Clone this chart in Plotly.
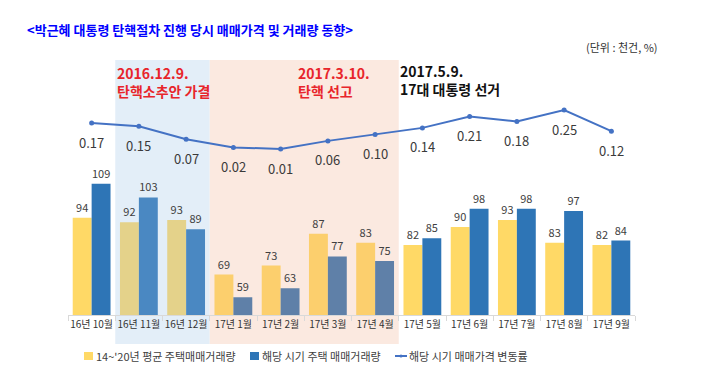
import plotly.graph_objects as go

categories = ["16년 10월", "16년 11월", "16년 12월", "17년 1월", "17년 2월", "17년 3월",
              "17년 4월", "17년 5월", "17년 6월", "17년 7월", "17년 8월", "17년 9월"]
avg_volume = [94, 92, 93, 69, 73, 87, 83, 82, 90, 93, 83, 82]
period_volume = [109, 103, 89, 59, 63, 77, 75, 85, 98, 98, 97, 84]
price_change = [0.17, 0.15, 0.07, 0.02, 0.01, 0.06, 0.10, 0.14, 0.21, 0.18, 0.25, 0.12]

series_names = ["14~'20년 평균 주택매매거래량", "해당 시기 주택 매매거래량", "해당 시기 매매가격 변동률"]

# per-category colour tone (normal / blue shaded / pink shaded period)
zone = ["n", "b", "b", "p", "p", "p", "p", "n", "n", "n", "n", "n"]
yellow_by_zone = {"n": "#FFD966", "b": "#E4D28A", "p": "#FCCF6D"}
blue_by_zone = {"n": "#2E75B6", "b": "#4A88C2", "p": "#5F80A8"}

FONT = "Noto Sans CJK KR"
TXT = "#404040"
L, T, W, H = 68, 60, 567, 255  # plot area in px


def px(x):
    return (x - L) / W


def py(y):
    return (T + H - y) / H


fig = go.Figure()
fig.add_trace(go.Bar(
    x=categories, y=avg_volume, name=series_names[0],
    marker=dict(color=[yellow_by_zone[z] for z in zone], line=dict(width=0)),
    text=[str(v) for v in avg_volume], textposition="outside",
    textfont=dict(size=11, color=TXT, family=FONT), cliponaxis=False,
))
fig.add_trace(go.Bar(
    x=categories, y=period_volume, name=series_names[1],
    marker=dict(color=[blue_by_zone[z] for z in zone], line=dict(width=0)),
    text=[str(v) for v in period_volume], textposition="outside",
    textfont=dict(size=11, color=TXT, family=FONT), cliponaxis=False,
))
fig.add_trace(go.Scatter(
    x=categories, y=price_change, name=series_names[2], yaxis="y2",
    mode="lines+markers", line=dict(color="#4472C4", width=2),
    marker=dict(size=5, color="#4472C4"), cliponaxis=False,
))

# labels under the line points
for c, v in zip(categories, price_change):
    fig.add_annotation(x=c, y=v, xref="x", yref="y2", text=f"{v:.2f}",
                       showarrow=False, yshift=-19,
                       font=dict(size=13, color="#3A3A3A", family=FONT))

# shaded periods
fig.add_shape(type="rect", xref="x", yref="paper", x0=0.5, x1=2.5, y0=py(344), y1=1,
              fillcolor="#E3EEF8", line=dict(width=0), layer="below")
fig.add_shape(type="rect", xref="x", yref="paper", x0=2.5, x1=6.5, y0=py(344), y1=1,
              fillcolor="#FBE9E0", line=dict(width=0), layer="below")

# texts
fig.add_annotation(xref="paper", yref="paper", x=px(25), y=py(30), xanchor="left", yanchor="middle",
                   text="<b>&lt;박근혜 대통령 탄핵절차 진행 당시 매매가격 및 거래량 동향&gt;</b>",
                   showarrow=False, font=dict(size=13, color="#0000FF", family=FONT))
fig.add_annotation(xref="paper", yref="paper", x=px(660), y=py(47), xanchor="right", yanchor="middle",
                   text="(단위 : 천건, %)", showarrow=False,
                   font=dict(size=11, color="#333333", family=FONT))
fig.add_annotation(xref="paper", yref="paper", x=px(115), y=py(82), xanchor="left", yanchor="middle",
                   text="<b>2016.12.9.<br>탄핵소추안 가결</b>", showarrow=False, align="left",
                   font=dict(size=14, color="#E8252B", family=FONT))
fig.add_annotation(xref="paper", yref="paper", x=px(296), y=py(82), xanchor="left", yanchor="middle",
                   text="<b>2017.3.10.<br>탄핵 선고</b>", showarrow=False, align="left",
                   font=dict(size=14, color="#E8252B", family=FONT))
fig.add_annotation(xref="paper", yref="paper", x=px(398), y=py(80), xanchor="left", yanchor="middle",
                   text="<b>2017.5.9.<br>17대 대통령 선거</b>", showarrow=False, align="left",
                   font=dict(size=14, color="#111111", family=FONT))

# custom legend (compact: symbol directly next to text)
leg_y = 356
items = [(84, "rect", "#FFD966"), (250, "rect", "#2E75B6"), (395, "line", "#4472C4")]
for (x0, kind, col), name in zip(items, series_names):
    if kind == "rect":
        fig.add_shape(type="rect", xref="paper", yref="paper", x0=px(x0), x1=px(x0 + 9),
                      y0=py(leg_y + 4), y1=py(leg_y - 4), fillcolor=col, line=dict(width=0))
        tx = x0 + 10
    else:
        fig.add_shape(type="line", xref="paper", yref="paper", x0=px(x0), x1=px(x0 + 12),
                      y0=py(leg_y), y1=py(leg_y), line=dict(color=col, width=2))
        fig.add_shape(type="circle", xref="paper", yref="paper", x0=px(x0 + 4.5), x1=px(x0 + 7.5),
                      y0=py(leg_y + 1.5), y1=py(leg_y - 1.5), fillcolor=col, line=dict(width=0))
        tx = x0 + 12
    fig.add_annotation(xref="paper", yref="paper", x=px(tx), y=py(leg_y), xanchor="left",
                       yanchor="middle", text=name, showarrow=False,
                       font=dict(size=11, color=TXT, family=FONT))

fig.update_layout(
    width=704, height=380,
    margin=dict(l=L, r=704 - L - W, t=T, b=380 - T - H, autoexpand=False),
    paper_bgcolor="white", plot_bgcolor="rgba(0,0,0,0)",
    barmode="group", bargap=0.2, bargroupgap=0,
    font=dict(family=FONT, color=TXT),
    showlegend=False,
    xaxis=dict(showline=True, linecolor="#D9D9D9", linewidth=1, showgrid=False,
               range=[-0.5, len(categories) - 0.5], autorange=False,
               ticks="outside", tickson="boundaries", ticklen=5, tickcolor="#D9D9D9",
               tickangle=0, automargin=False,
               tickfont=dict(size=10, color="#333333", family=FONT)),
    yaxis=dict(range=[51.2, 163.5], visible=False, showgrid=False, automargin=False),
    yaxis2=dict(range=[-1.0115, 0.5577], overlaying="y", visible=False, showgrid=False,
                automargin=False),
)

fig.write_html("out.html", config={"displayModeBar": False},
               post_script="document.body.style.margin='0';")
